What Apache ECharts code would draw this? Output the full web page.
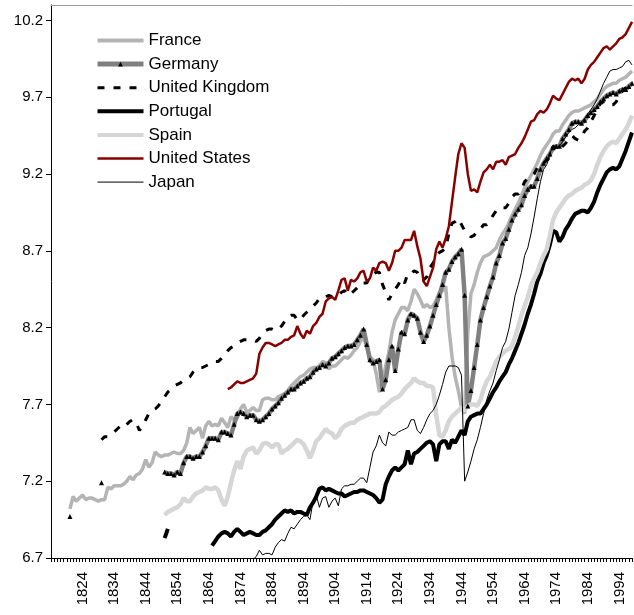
<!DOCTYPE html>
<html>
<head>
<meta charset="utf-8">
<script src="https://cdn.jsdelivr.net/npm/echarts@6/dist/echarts.min.js"></script>
<style>
  html, body { margin: 0; padding: 0; background: #fff; }
  #chart { width: 634px; height: 615px; }
</style>
</head>
<body>
<div id="chart"></div>
<script>
// category axis: one slot per year
const firstYear = 1814;
const lastYear = 1998;
const years = [];
for (let y = firstYear; y <= lastYear; y++) years.push(String(y));

const xTickLabels = ['1824', '1834', '1844', '1854', '1864', '1874', '1884', '1894', '1904',
  '1914', '1924', '1934', '1944', '1954', '1964', '1974', '1984', '1994'];

const seriesNames = ['France', 'Germany', 'United Kingdom', 'Portugal', 'Spain', 'United States', 'Japan'];

// France 1820-1998
const franceFrom = 1820;
const france = [
  7.02, 7.10, 7.07, 7.09, 7.11, 7.08, 7.09, 7.09, 7.08, 7.07,
  7.08, 7.08, 7.16, 7.15, 7.17, 7.17, 7.17, 7.18, 7.20, 7.23,
  7.21, 7.24, 7.25, 7.28, 7.34, 7.29, 7.32, 7.39, 7.37, 7.36,
  7.37, 7.37, 7.38, 7.39, 7.38, 7.38, 7.40, 7.45, 7.55, 7.51,
  7.53, 7.55, 7.48, 7.56, 7.59, 7.56, 7.57, 7.56, 7.61, 7.58,
  7.55, 7.62, 7.60, 7.61, 7.67, 7.70, 7.65, 7.66, 7.68, 7.66,
  7.66, 7.73, 7.74, 7.74, 7.73, 7.73, 7.75, 7.76, 7.77, 7.79,
  7.82, 7.84, 7.86, 7.88, 7.89, 7.91, 7.93, 7.94, 7.94, 7.95,
  7.98, 7.97, 7.93, 7.95, 7.95, 7.97, 7.99, 8.01, 8.00, 8.02,
  8.05, 8.07, 8.11, 8.14, 8.07, 8.01, 7.99, 7.90, 7.78, 7.85,
  7.95, 8.04, 8.17, 8.25, 8.29, 8.33, 8.33, 8.31, 8.37, 8.45,
  8.42, 8.38, 8.33, 8.35, 8.33, 8.34, 8.38, 8.43, 8.44, 8.47,
  8.20, 8.01, 7.88, 7.79, 7.68, 7.64, 8.17, 8.42, 8.48, 8.56,
  8.62, 8.66, 8.67, 8.68, 8.70, 8.72, 8.77, 8.81, 8.84, 8.88,
  8.93, 8.97, 9.01, 9.06, 9.11, 9.15, 9.19, 9.23, 9.27, 9.32,
  9.36, 9.39, 9.42, 9.46, 9.48, 9.48, 9.52, 9.55, 9.58, 9.60,
  9.61, 9.61, 9.62, 9.63, 9.64, 9.65, 9.67, 9.69, 9.72, 9.75,
  9.77, 9.78, 9.79, 9.79, 9.81, 9.82, 9.83, 9.85, 9.87
];

// Germany: two isolated early benchmarks, then annual from 1850
const germanyEarlyYears = [1820, 1830];
const germanyEarly = [6.97, 7.19];
const germanyFrom = 1850;
const germany = [
  7.26, 7.25, 7.25, 7.24, 7.26, 7.25, 7.32, 7.36, 7.36, 7.35,
  7.36, 7.36, 7.39, 7.43, 7.48, 7.48, 7.48, 7.47, 7.52, 7.52,
  7.51, 7.50, 7.57, 7.64, 7.65, 7.64, 7.62, 7.63, 7.63, 7.60,
  7.59, 7.60, 7.62, 7.64, 7.67, 7.69, 7.71, 7.74, 7.76, 7.78,
  7.80, 7.80, 7.82, 7.84, 7.85, 7.87, 7.88, 7.91, 7.93, 7.94,
  7.96, 7.95, 7.97, 8.00, 8.01, 8.03, 8.05, 8.07, 8.08, 8.08,
  8.09, 8.12, 8.15, 8.19, 8.09, 7.99, 7.97, 7.98, 7.99, 7.80,
  7.86, 7.99, 8.08, 7.92, 8.06, 8.17, 8.16, 8.25, 8.29, 8.28,
  8.26, 8.17, 8.11, 8.15, 8.21, 8.28, 8.35, 8.41, 8.48, 8.56,
  8.58, 8.63, 8.66, 8.68, 8.71, 8.41, 7.69, 7.79, 7.94, 8.09,
  8.25, 8.33, 8.40, 8.47, 8.53, 8.62, 8.67, 8.75, 8.78, 8.84,
  8.90, 8.94, 8.97, 9.00, 9.06, 9.10, 9.12, 9.12, 9.17, 9.23,
  9.27, 9.30, 9.33, 9.37, 9.38, 9.38, 9.43, 9.46, 9.49, 9.53,
  9.54, 9.54, 9.53, 9.55, 9.58, 9.60, 9.62, 9.64, 9.67, 9.69,
  9.71, 9.72, 9.73, 9.72, 9.74, 9.75, 9.75, 9.77, 9.79
];

// United Kingdom 1830-1998
const ukFrom = 1830;
const uk = [
  7.47, 7.49, 7.49, 7.50, 7.52, 7.54, 7.56, 7.55, 7.57, 7.59,
  7.60, 7.58, 7.53, 7.56, 7.60, 7.64, 7.66, 7.67, 7.69, 7.72,
  7.75, 7.78, 7.80, 7.82, 7.83, 7.84, 7.86, 7.87, 7.88, 7.91,
  7.93, 7.94, 7.94, 7.95, 7.96, 7.97, 7.98, 7.98, 8.00, 8.02,
  8.05, 8.07, 8.08, 8.10, 8.11, 8.12, 8.12, 8.12, 8.12, 8.11,
  8.13, 8.16, 8.18, 8.19, 8.19, 8.18, 8.19, 8.21, 8.24, 8.27,
  8.28, 8.28, 8.25, 8.25, 8.28, 8.30, 8.32, 8.34, 8.36, 8.39,
  8.40, 8.40, 8.41, 8.40, 8.40, 8.41, 8.43, 8.44, 8.41, 8.42,
  8.44, 8.46, 8.46, 8.49, 8.49, 8.53, 8.55, 8.56, 8.56, 8.48,
  8.43, 8.38, 8.42, 8.45, 8.48, 8.52, 8.49, 8.55, 8.55, 8.57,
  8.56, 8.51, 8.51, 8.53, 8.59, 8.62, 8.66, 8.69, 8.70, 8.72,
  8.81, 8.88, 8.89, 8.91, 8.87, 8.83, 8.81, 8.79, 8.80, 8.83,
  8.84, 8.87, 8.87, 8.90, 8.93, 8.96, 8.96, 8.98, 8.98, 9.01,
  9.05, 9.07, 9.07, 9.10, 9.15, 9.17, 9.18, 9.20, 9.24, 9.25,
  9.27, 9.29, 9.31, 9.38, 9.36, 9.35, 9.38, 9.40, 9.43, 9.45,
  9.43, 9.42, 9.44, 9.48, 9.50, 9.54, 9.58, 9.62, 9.66, 9.67,
  9.67, 9.65, 9.65, 9.67, 9.71, 9.74, 9.76, 9.79, 9.80
];

// Portugal: short early run, then annual from 1865
const portugalEarlyFrom = 1850;
const portugalEarly = [6.83, 6.89];
const portugalFrom = 1865;
const portugal = [
  6.78, 6.81, 6.84, 6.86, 6.87,
  6.86, 6.84, 6.87, 6.89, 6.87, 6.85, 6.86, 6.87, 6.86, 6.85,
  6.85, 6.87, 6.88, 6.90, 6.92, 6.95, 6.97, 6.99, 7.01, 7.00,
  7.01, 6.99, 7.00, 7.00, 6.99, 6.98, 7.03, 7.06, 7.10, 7.15,
  7.16, 7.14, 7.15, 7.14, 7.13, 7.12, 7.12, 7.10, 7.11, 7.12,
  7.13, 7.13, 7.14, 7.14, 7.13, 7.12, 7.11, 7.09, 7.06, 7.08,
  7.18, 7.23, 7.27, 7.29, 7.27, 7.29, 7.31, 7.40, 7.31, 7.38,
  7.39, 7.41, 7.43, 7.45, 7.46, 7.44, 7.33, 7.44, 7.46, 7.46,
  7.41, 7.47, 7.45, 7.49, 7.53, 7.50, 7.59, 7.62, 7.63, 7.64,
  7.64, 7.67, 7.70, 7.74, 7.78, 7.81, 7.85, 7.88, 7.91, 7.96,
  8.00, 8.05, 8.10, 8.16, 8.22, 8.29, 8.35, 8.42, 8.50, 8.55,
  8.62, 8.67, 8.74, 8.83, 8.82, 8.76, 8.79, 8.84, 8.87, 8.91,
  8.94, 8.95, 8.96, 8.96, 8.95, 8.98, 9.02, 9.08, 9.13, 9.17,
  9.21, 9.23, 9.24, 9.23, 9.25, 9.30, 9.35, 9.41, 9.47
];

// Spain 1850-1998
const spainFrom = 1850;
const spain = [
  6.98, 7.00, 7.01, 7.02, 7.03, 7.05, 7.09, 7.07, 7.07, 7.10,
  7.12, 7.13, 7.14, 7.16, 7.15, 7.15, 7.16, 7.14, 7.08, 7.04,
  7.10, 7.19, 7.27, 7.33, 7.28, 7.36, 7.40, 7.41, 7.42, 7.38,
  7.40, 7.44, 7.45, 7.44, 7.42, 7.44, 7.44, 7.38, 7.40, 7.41,
  7.43, 7.45, 7.47, 7.46, 7.44, 7.40, 7.35, 7.40, 7.46, 7.48,
  7.51, 7.54, 7.52, 7.51, 7.48, 7.50, 7.54, 7.56, 7.57, 7.58,
  7.58, 7.60, 7.61, 7.62, 7.63, 7.64, 7.64, 7.64, 7.65, 7.68,
  7.69, 7.71, 7.73, 7.74, 7.75, 7.77, 7.80, 7.82, 7.84, 7.87,
  7.85, 7.84, 7.84, 7.82, 7.82, 7.81, 7.63, 7.50, 7.49, 7.53,
  7.59, 7.62, 7.64, 7.66, 7.68, 7.66, 7.69, 7.70, 7.70, 7.69,
  7.73, 7.80, 7.85, 7.88, 7.93, 7.98, 8.01, 8.03, 8.05, 8.06,
  8.08, 8.14, 8.21, 8.28, 8.34, 8.40, 8.47, 8.52, 8.56, 8.62,
  8.67, 8.71, 8.80, 8.90, 8.95, 8.98, 9.01, 9.04, 9.06, 9.07,
  9.09, 9.10, 9.11, 9.13, 9.14, 9.16, 9.20, 9.26, 9.31, 9.35,
  9.38, 9.40, 9.41, 9.40, 9.43, 9.46, 9.49, 9.53, 9.58
];

// United States 1870-1998
const usFrom = 1870;
const us = [
  7.80, 7.81, 7.83, 7.85, 7.84, 7.84, 7.85, 7.86, 7.87, 7.90,
  8.03, 8.07, 8.10, 8.10, 8.09, 8.08, 8.09, 8.10, 8.12, 8.12,
  8.14, 8.15, 8.21, 8.16, 8.13, 8.18, 8.16, 8.21, 8.23, 8.27,
  8.29, 8.37, 8.39, 8.40, 8.38, 8.44, 8.51, 8.52, 8.44, 8.51,
  8.50, 8.52, 8.56, 8.57, 8.50, 8.52, 8.59, 8.57, 8.62, 8.63,
  8.62, 8.57, 8.62, 8.70, 8.70, 8.72, 8.77, 8.77, 8.77, 8.83,
  8.73, 8.65, 8.50, 8.47, 8.53, 8.59, 8.71, 8.76, 8.72, 8.78,
  8.86, 9.02, 9.18, 9.33, 9.40, 9.37, 9.20, 9.09, 9.10, 9.08,
  9.15, 9.21, 9.23, 9.26, 9.23, 9.28, 9.28, 9.29, 9.26, 9.31,
  9.32, 9.33, 9.37, 9.40, 9.44, 9.49, 9.54, 9.55, 9.59, 9.61,
  9.60, 9.62, 9.66, 9.71, 9.69, 9.68, 9.72, 9.76, 9.80, 9.82,
  9.81, 9.82, 9.79, 9.82, 9.88, 9.91, 9.93, 9.96, 9.99, 10.02,
  10.03, 10.01, 10.03, 10.05, 10.08, 10.09, 10.11, 10.15, 10.19
];

// Japan 1878-1998 (earlier values sit below the axis)
const japanFrom = 1878;
const japan = [
  6.69, 6.71,
  6.75, 6.72, 6.73, 6.73, 6.72, 6.77, 6.80, 6.82, 6.81, 6.86,
  6.90, 6.89, 6.92, 6.95, 6.97, 6.98, 6.95, 7.07, 7.11, 7.03,
  7.09, 7.10, 7.03, 7.07, 7.09, 7.04, 7.15, 7.17, 7.17, 7.18,
  7.18, 7.20, 7.22, 7.22, 7.19, 7.29, 7.39, 7.43, 7.50, 7.45,
  7.43, 7.52, 7.50, 7.50, 7.52, 7.53, 7.54, 7.55, 7.60, 7.60,
  7.53, 7.51, 7.55, 7.60, 7.64, 7.66, 7.70, 7.76, 7.83, 7.91,
  7.95, 7.95, 7.95, 7.94, 7.89, 7.20, 7.26, 7.33, 7.41, 7.47,
  7.55, 7.64, 7.73, 7.79, 7.84, 7.92, 7.99, 8.07, 8.11, 8.19,
  8.30, 8.41, 8.48, 8.56, 8.67, 8.72, 8.81, 8.92, 9.04, 9.15,
  9.23, 9.26, 9.33, 9.39, 9.37, 9.38, 9.41, 9.44, 9.47, 9.49,
  9.50, 9.52, 9.54, 9.56, 9.59, 9.62, 9.65, 9.69, 9.74, 9.79,
  9.83, 9.87, 9.88, 9.88, 9.89, 9.90, 9.93, 9.94, 9.91
];

// place a run of yearly values onto the category slots
function place(out, from, values) {
  values.forEach((v, i) => {
    const idx = from + i - firstYear;
    if (idx >= 0 && idx < out.length) out[idx] = v;
  });
  return out;
}
function yearly(from, values) {
  return place(years.map(() => null), from, values);
}

const germanyData = yearly(germanyFrom, germany);
germanyEarlyYears.forEach((yr, i) => place(germanyData, yr, [germanyEarly[i]]));
const portugalData = place(yearly(portugalFrom, portugal), portugalEarlyFrom, portugalEarly);

const font = 'Liberation Sans, Arial, sans-serif';
// legend marks: only Germany keeps its symbol
const noMark = { opacity: 0 };

const chart = echarts.init(document.getElementById('chart'));
chart.setOption({
  animation: false,
  backgroundColor: '#fff',
  grid: { left: 51, right: 2, top: 5, bottom: 57 },
  legend: {
    orient: 'vertical',
    left: 95,
    top: 32,
    padding: 0,
    itemWidth: 46,
    itemHeight: 6,
    itemGap: 6.6,
    selectedMode: false,
    textStyle: { fontSize: 17, color: '#000', fontFamily: font, lineHeight: 17 },
    data: [
      { name: 'France', lineStyle: { width: 4 }, itemStyle: noMark },
      { name: 'Germany', lineStyle: { width: 5 } },
      { name: 'United Kingdom', lineStyle: { width: 3, type: [7, 9] }, itemStyle: noMark },
      { name: 'Portugal', lineStyle: { width: 4 }, itemStyle: noMark },
      { name: 'Spain', lineStyle: { width: 4 }, itemStyle: noMark },
      { name: 'United States', lineStyle: { width: 2.5 }, itemStyle: noMark },
      { name: 'Japan', lineStyle: { width: 1 }, itemStyle: noMark }
    ]
  },
  xAxis: [{
    type: 'category',
    data: years,
    boundaryGap: false,
    axisLine: { lineStyle: { color: '#000', width: 1 } },
    axisTick: { interval: 0, length: 4, lineStyle: { color: '#000' } },
    axisLabel: {
      interval: (index, value) => xTickLabels.includes(value),
      rotate: 90,
      margin: 14,
      fontSize: 15,
      color: '#000',
      fontFamily: font
    },
    splitLine: { show: false }
  }, {
    type: 'category',
    data: years,
    position: 'top',
    boundaryGap: false,
    axisLine: { lineStyle: { color: '#9a9a9a', width: 1 } },
    axisTick: { show: false },
    axisLabel: { show: false }
  }],
  yAxis: {
    type: 'value',
    min: 6.7,
    max: 10.3,
    interval: 0.5,
    axisLine: { show: true, lineStyle: { color: '#000', width: 1 } },
    axisTick: { show: true, length: 5, lineStyle: { color: '#000' } },
    axisLabel: {
      formatter: v => v.toFixed(1),
      showMaxLabel: false,
      margin: 8,
      fontSize: 15,
      color: '#000',
      fontFamily: font
    },
    splitLine: { show: false }
  },
  series: [
    {
      name: seriesNames[0], type: 'line', data: yearly(franceFrom, france),
      symbol: 'none', color: '#b4b4b4',
      lineStyle: { color: '#b4b4b4', width: 3.5 }
    },
    {
      name: seriesNames[1], type: 'line', data: germanyData,
      symbol: 'triangle', symbolSize: 5, showAllSymbol: true,
      itemStyle: { color: '#000' },
      lineStyle: { color: '#808080', width: 4.5 }
    },
    {
      name: seriesNames[2], type: 'line', data: yearly(ukFrom, uk),
      symbol: 'none', color: '#000',
      lineStyle: { color: '#000', width: 3, type: [7, 9] }
    },
    {
      name: seriesNames[3], type: 'line', data: portugalData,
      symbol: 'none', color: '#000',
      lineStyle: { color: '#000', width: 4 }
    },
    {
      name: seriesNames[4], type: 'line', data: yearly(spainFrom, spain),
      symbol: 'none', color: '#d6d6d6',
      lineStyle: { color: '#d6d6d6', width: 4.5 }
    },
    {
      name: seriesNames[5], type: 'line', data: yearly(usFrom, us),
      symbol: 'none', color: '#880000',
      lineStyle: { color: '#880000', width: 2.5 }
    },
    {
      name: seriesNames[6], type: 'line', data: yearly(japanFrom, japan),
      symbol: 'none', color: '#000',
      lineStyle: { color: '#000', width: 1 }
    }
  ]
});
</script>
</body>
</html>
